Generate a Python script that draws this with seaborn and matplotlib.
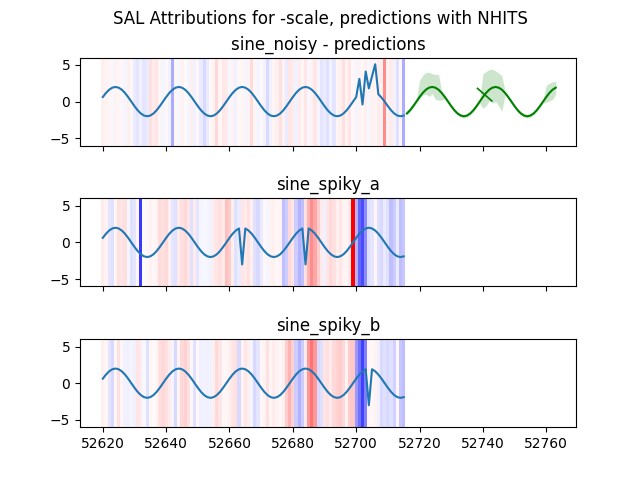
import numpy as np
import matplotlib
matplotlib.use("Agg")
import matplotlib.pyplot as plt
import seaborn as sns

# input window timestamps (one per step)
t_start = 52620
n_steps = 96
times = np.arange(t_start, t_start + n_steps)

sine_noisy = [
    0.62, 1.18, 1.62, 1.90, 2.00, 1.90, 1.62, 1.18, 0.62, 0.00, -0.62, -1.18, -1.62, -1.90, -2.00, -1.90, -1.62, -1.18, -0.62, 0.00,
    0.62, 1.18, 1.62, 1.90, 2.00, 1.90, 1.62, 1.18, 0.62, 0.00, -0.62, -1.18, -1.62, -1.90, -2.00, -1.90, -1.62, -1.18, -0.62, 0.00,
    0.62, 1.18, 1.62, 1.90, 2.00, 1.90, 1.62, 1.18, 0.62, 0.00, -0.62, -1.18, -1.62, -1.90, -2.00, -1.90, -1.62, -1.18, -0.62, 0.00,
    0.62, 1.18, 1.62, 1.90, 2.00, 1.90, 1.62, 1.18, 0.62, 0.00, -0.62, -1.18, -1.62, -1.90, -2.00, -1.90, -1.62, -1.18, -0.62, 0.00,
    0.62, 3.10, -0.40, 4.10, 1.80, 3.45, 5.10, 1.00, 0.55, 0.00, -0.62, -1.18, -1.62, -1.90, -2.00, -1.90,
]
sine_spiky_a = [
    0.62, 1.18, 1.62, 1.90, 2.00, 1.90, 1.62, 1.18, 0.62, 0.00, -0.62, -1.18, -1.62, -1.90, -2.00, -1.90, -1.62, -1.18, -0.62, 0.00,
    0.62, 1.18, 1.62, 1.90, 2.00, 1.90, 1.62, 1.18, 0.62, 0.00, -0.62, -1.18, -1.62, -1.90, -2.00, -1.90, -1.62, -1.18, -0.62, 0.00,
    0.62, 1.18, 1.62, 1.90, -3.00, 1.90, 1.62, 1.18, 0.62, 0.00, -0.62, -1.18, -1.62, -1.90, -2.00, -1.90, -1.62, -1.18, -0.62, 0.00,
    0.62, 1.18, 1.62, 1.90, -3.00, 1.90, 1.62, 1.18, 0.62, 0.00, -0.62, -1.18, -1.62, -1.90, -2.00, -1.90, -1.62, -1.18, -0.62, 0.00,
    0.62, 1.18, 1.62, 1.90, 2.00, 1.90, 1.62, 1.18, 0.62, 0.00, -0.62, -1.18, -1.62, -1.90, -2.00, -1.90,
]
sine_spiky_b = [
    0.62, 1.18, 1.62, 1.90, 2.00, 1.90, 1.62, 1.18, 0.62, 0.00, -0.62, -1.18, -1.62, -1.90, -2.00, -1.90, -1.62, -1.18, -0.62, 0.00,
    0.62, 1.18, 1.62, 1.90, 2.00, 1.90, 1.62, 1.18, 0.62, 0.00, -0.62, -1.18, -1.62, -1.90, -2.00, -1.90, -1.62, -1.18, -0.62, 0.00,
    0.62, 1.18, 1.62, 1.90, 2.00, 1.90, 1.62, 1.18, 0.62, 0.00, -0.62, -1.18, -1.62, -1.90, -2.00, -1.90, -1.62, -1.18, -0.62, 0.00,
    0.62, 1.18, 1.62, 1.90, 2.00, 1.90, 1.62, 1.18, 0.62, 0.00, -0.62, -1.18, -1.62, -1.90, -2.00, -1.90, -1.62, -1.18, -0.62, 0.00,
    0.62, 1.18, 1.62, 1.90, -3.00, 1.90, 1.62, 1.18, 0.62, 0.00, -0.62, -1.18, -1.62, -1.90, -2.00, -1.90,
]

# SAL attributions per step (sign -> red/blue, magnitude -> opacity)
attr_noisy = [
    0.06, 0.05, 0.04, -0.03, 0.05, 0.04, 0.03, -0.04, 0.06, 0.03, -0.08, -0.10, -0.06, -0.10, -0.08, 0.12, 0.08, 0.10, 0.04, -0.04,
    0.03, -0.05, -0.33, 0.03, -0.03, 0.05, 0.02, -0.04, 0.06, -0.05, 0.03, -0.08, -0.15, -0.08, 0.03, 0.05, 0.15, 0.04, 0.10, 0.08,
    -0.03, 0.05, -0.06, 0.03, 0.04, -0.04, 0.05, 0.14, 0.04, -0.04, 0.03, -0.05, -0.15, -0.06, 0.04, 0.06, 0.12, 0.05, -0.08, 0.10,
    0.08, -0.05, 0.08, 0.04, 0.10, -0.03, 0.05, 0.10, -0.04, -0.10, -0.08, -0.12, -0.05, -0.10, 0.04, 0.06, 0.12, 0.05, 0.10, 0.03,
    -0.04, 0.05, 0.03, 0.06, -0.03, 0.05, 0.04, 0.08, 0.06, 0.45, 0.05, 0.08, -0.05, -0.12, 0.04, -0.33,
]
attr_spiky_a = [
    0.08, 0.05, -0.10, -0.12, 0.04, 0.12, 0.10, 0.12, -0.04, -0.12, -0.10, 0.04, -0.78, 0.02, 0.03, 0.05, 0.03, 0.05, 0.14, 0.12,
    0.15, 0.06, -0.10, -0.12, 0.08, 0.12, 0.15, 0.10, -0.12, 0.08, -0.10, -0.04, -0.03, -0.04, -0.05, 0.08, 0.10, 0.12, 0.08, 0.25,
    0.20, 0.06, -0.12, -0.08, 0.10, 0.08, 0.12, 0.06, -0.12, -0.15, -0.08, 0.03, -0.04, 0.05, 0.06, 0.03, 0.05, -0.25, -0.20, 0.15,
    0.10, -0.20, -0.30, -0.25, 0.12, 0.30, 0.45, 0.35, 0.20, 0.08, -0.06, 0.10, 0.15, 0.12, 0.06, 0.10, 0.05, 0.04, 0.08, 1.00,
    -0.30, -0.60, -0.70, -0.45, -0.12, -0.10, 0.04, -0.12, -0.15, -0.08, -0.12, -0.25, -0.20, -0.08, -0.25, -0.22,
]
attr_spiky_b = [
    0.06, 0.04, -0.10, -0.15, 0.03, 0.12, 0.03, -0.05, -0.06, -0.04, -0.06, 0.10, 0.08, -0.03, -0.12, 0.04, 0.02, 0.04, 0.12, 0.15,
    0.12, 0.08, -0.04, -0.15, 0.04, 0.15, 0.18, 0.12, 0.03, -0.12, 0.03, -0.06, -0.05, -0.06, -0.05, 0.06, 0.15, 0.10, 0.03, 0.04,
    0.06, 0.10, 0.12, -0.15, 0.05, 0.10, 0.06, -0.04, -0.15, -0.10, 0.03, 0.05, 0.12, 0.04, 0.08, 0.05, 0.03, 0.06, 0.20, 0.30,
    0.18, -0.20, -0.30, -0.20, 0.08, 0.40, 0.55, 0.40, -0.15, -0.12, 0.10, 0.12, 0.08, 0.15, 0.18, 0.20, 0.15, 0.05, 0.20, 0.22,
    -0.40, -0.55, -0.75, -0.50, 0.04, 0.03, 0.05, -0.06, -0.15, -0.12, -0.15, -0.12, -0.18, 0.03, -0.22, -0.25,
]

# NHITS forecast for sine_noisy
pred_times = np.arange(52716, 52764)
pred_mean = [
    -1.62, -1.18, -0.62, 0.00,
    0.62, 1.18, 1.62, 1.90, 2.00, 1.90, 1.62, 1.18, 0.62, 0.00, -0.62, -1.18, -1.62, -1.90, -2.00, -1.90, -1.62, -1.18, -0.62, 0.00,
    0.62, 1.18, 1.62, 1.90, 2.00, 1.90, 1.62, 1.18, 0.62, 0.00, -0.62, -1.18, -1.62, -1.90, -2.00, -1.90, -1.62, -1.18, -0.62, 0.00,
    0.62, 1.18, 1.62, 1.90,
]
pred_low = [
    -1.85, -1.40, -0.85, -0.22,
    0.30, 0.90, 1.00, 0.70, 1.10, 0.30, 0.20, 0.20, 0.40, -0.22, -0.85, -1.40, -1.85, -2.12, -2.22, -2.12, -1.85, -1.40, -0.85, -0.22,
    -0.90, -0.60, 0.10, -0.20, 0.00, -0.60, -1.30, 0.95, 0.40, -0.22, -0.85, -1.40, -1.85, -2.12, -2.22, -2.12, -1.85, -1.40, -0.85, -0.22,
    -0.10, 0.10, 0.30, 1.00,
]
pred_high = [
    -1.40, -0.95, -0.40, 0.22,
    2.90, 3.60, 4.00, 4.00, 3.80, 3.70, 3.70, 1.40, 0.85, 0.22, -0.40, -0.95, -1.40, -1.68, -1.78, -1.68, -1.40, -0.95, -0.40, 0.22,
    3.80, 4.10, 4.40, 4.40, 4.20, 3.90, 3.50, 1.40, 0.85, 0.22, -0.40, -0.95, -1.40, -1.68, -1.78, -1.68, -1.40, -0.95, -0.40, 0.22,
    2.20, 2.50, 2.70, 2.80,
]
# short stray forecast segment near the chunk boundary
stray_t = [52738.3, 52742.8]
stray_v = [1.80, 0.10]

panels = [
    ("sine_noisy - predictions", sine_noisy, attr_noisy),
    ("sine_spiky_a", sine_spiky_a, attr_spiky_a),
    ("sine_spiky_b", sine_spiky_b, attr_spiky_b),
]

fig, axes = plt.subplots(3, 1, sharex=True, figsize=(6.4, 4.8))
plt.subplots_adjust(hspace=0.6)
fig.suptitle("SAL Attributions for -scale, predictions with NHITS")

for ax, (title, values, attr) in zip(axes, panels):
    for t, a in zip(times, attr):
        ax.axvspan(t - 0.5, t + 0.5, color="red" if a > 0 else "blue", alpha=abs(a), linewidth=0)
    sns.lineplot(x=times, y=values, ax=ax, color="C0")
    ax.set_title(title)
    ax.set_ylim(-6, 6)

ax = axes[0]
ax.fill_between(pred_times, pred_low, pred_high, color="green", alpha=0.2, linewidth=0)
sns.lineplot(x=pred_times, y=pred_mean, ax=ax, color="green")
sns.lineplot(x=stray_t, y=stray_v, ax=ax, color="green", linewidth=1.2)

axes[-1].set_xlim(52612.8, 52769.4)
axes[-1].set_xticks([52620, 52640, 52660, 52680, 52700, 52720, 52740, 52760])

plt.savefig("out.png", dpi=100)
plt.close()
